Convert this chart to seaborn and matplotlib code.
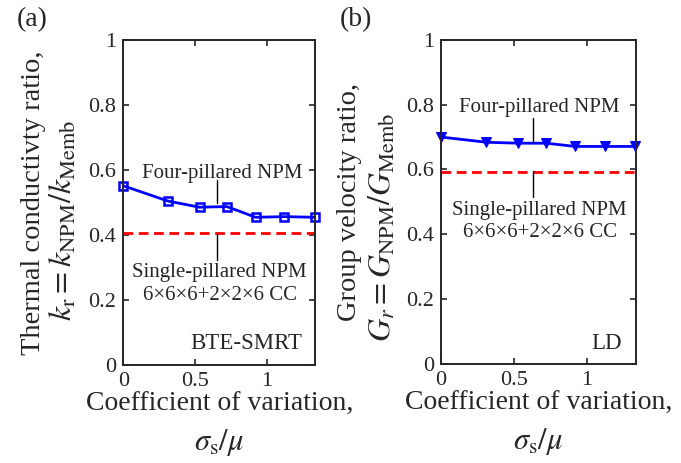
import numpy as np
import pandas as pd
import matplotlib
matplotlib.use("Agg")
import matplotlib.pyplot as plt
import seaborn as sns

# data
cv = [0, 0.31, 0.53, 0.72, 0.92, 1.12, 1.33]
k_ratio = [0.551, 0.504, 0.485, 0.487, 0.454, 0.456, 0.454]
g_ratio = [0.700, 0.684, 0.681, 0.681, 0.671, 0.671, 0.671]
k_single = 0.405
g_single = 0.593

sns.set_theme(style="ticks")
plt.rcParams["font.family"] = ["Liberation Serif", "DejaVu Serif"]
plt.rcParams["mathtext.fontset"] = "stix"
plt.rcParams["xtick.direction"] = "in"
plt.rcParams["ytick.direction"] = "in"

TICK = 16
LAB = 20
ANN = 15
SPINE = "#262626"

fig = plt.figure(figsize=(6.81, 4.63), dpi=100)
ax1 = fig.add_axes([0.181, 0.212, 0.282, 0.702])
ax2 = fig.add_axes([0.6476, 0.214, 0.2863, 0.700])


def style_axes(ax):
    ax.set_xlim(0, 1.335)
    ax.set_ylim(0, 1)
    ax.set_xticks([0, 0.5, 1])
    ax.set_xticklabels(["0", "0.5", "1"])
    ax.set_yticks([0, 0.2, 0.4, 0.6, 0.8, 1])
    ax.set_yticklabels(["0", "0.2", "0.4", "0.6", "0.8", "1"])
    ax.tick_params(labelsize=TICK, length=4, width=1.2, color=SPINE,
                   top=True, right=True, pad=5)
    for s in ax.spines.values():
        s.set_visible(True)
        s.set_color(SPINE)
        s.set_linewidth(1.4)
    ax.set_xlabel("")
    ax.set_ylabel("")
    ax.text(0.5, -0.122, "Coefficient of variation,", transform=ax.transAxes,
            ha="center", va="center", fontsize=LAB)
    ax.text(0.5, -0.24, r"$\sigma_\mathrm{s}/\mu$", transform=ax.transAxes,
            ha="center", va="center", fontsize=22)


# (a) thermal conductivity
sns.lineplot(x=cv, y=k_ratio, ax=ax1, color="blue", linewidth=2,
             marker="s", markersize=6, markerfacecolor="none",
             markeredgecolor="blue", markeredgewidth=1.8, clip_on=False)
ax1.axhline(k_single, color="red", linestyle=(0, (3.5, 2)), linewidth=2)
style_axes(ax1)
ax1.text(-0.469, 0.5, "Thermal conductivty ratio,", transform=ax1.transAxes,
         rotation=90, ha="center", va="center", fontsize=20.5)
ax1.text(-0.3125, 0.445, r"$k_\mathrm{r} = k_\mathrm{NPM}/k_\mathrm{Memb}$",
         transform=ax1.transAxes, rotation=90, ha="center", va="center",
         fontsize=23)
ax1.text(0.69, 0.59, "Four-pillared NPM", ha="center", va="center", fontsize=ANN)
ax1.plot([0.65, 0.65], [0.569, 0.498], color="black", linewidth=1)
ax1.text(0.67, 0.248, "Single-pillared NPM\n6×6×6+2×2×6 CC", ha="center",
         va="center", fontsize=ANN, linespacing=1.25)
ax1.plot([0.65, 0.65], [0.403, 0.323], color="black", linewidth=1)
ax1.text(0.934, 0.067, "BTE-SMRT", transform=ax1.transAxes, ha="right",
         va="center", fontsize=16.5)

# (b) group velocity
sns.lineplot(x=cv, y=g_ratio, ax=ax2, color="blue", linewidth=2,
             marker="v", markersize=7, markerfacecolor="blue",
             markeredgecolor="blue", clip_on=False)
ax2.axhline(g_single, color="red", linestyle=(0, (3.5, 2)), linewidth=2)
style_axes(ax2)
ax2.text(-0.467, 0.5, "Group velocity ratio,", transform=ax2.transAxes,
         rotation=90, ha="center", va="center", fontsize=20.5)
ax2.text(-0.297, 0.42, r"$G_r = G_\mathrm{NPM}/G_\mathrm{Memb}$",
         transform=ax2.transAxes, rotation=90, ha="center", va="center",
         fontsize=23)
ax2.text(0.676, 0.79, "Four-pillared NPM", ha="center", va="center", fontsize=ANN)
ax2.plot([0.632, 0.632], [0.76, 0.683], color="black", linewidth=1)
ax2.text(0.676, 0.44, "Single-pillared NPM\n6×6×6+2×2×6 CC", ha="center",
         va="center", fontsize=ANN, linespacing=1.25)
ax2.plot([0.632, 0.632], [0.594, 0.516], color="black", linewidth=1)
ax2.text(0.927, 0.062, "LD", transform=ax2.transAxes, ha="right",
         va="center", fontsize=16.5)

fig.text(0.025, 0.957, "(a)", ha="left", va="center", fontsize=20)
fig.text(0.499, 0.957, "(b)", ha="left", va="center", fontsize=20)

fig.savefig("out.png", dpi=100)
